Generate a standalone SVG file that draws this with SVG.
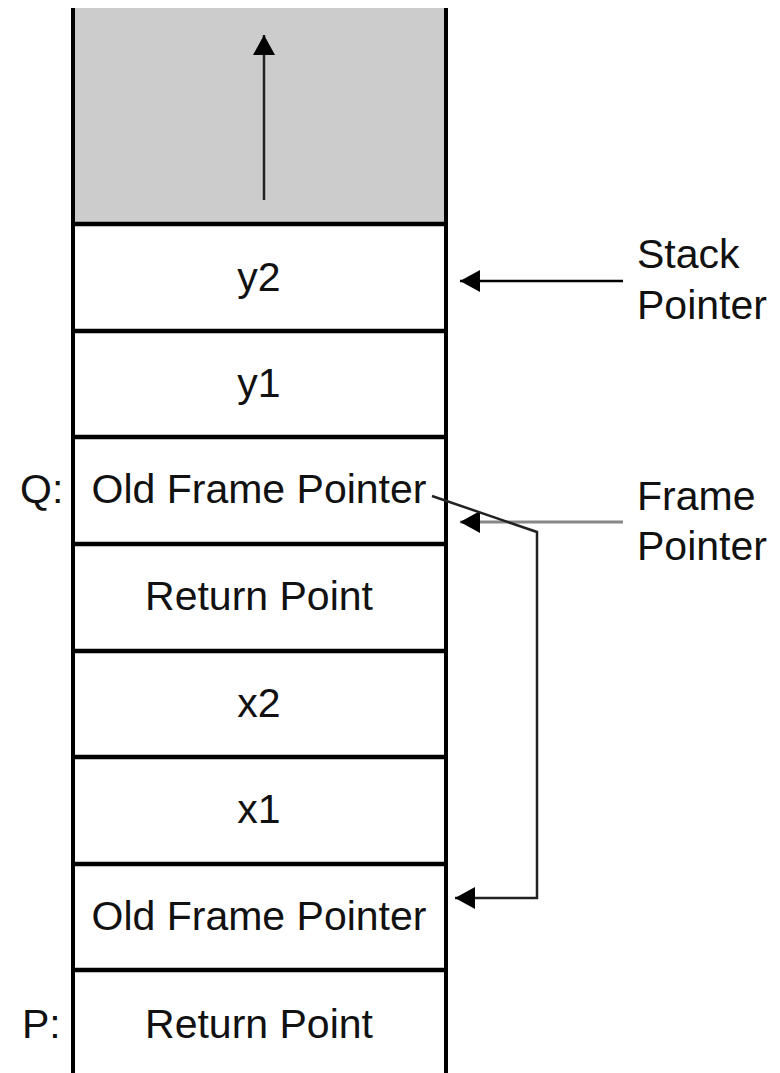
<svg xmlns="http://www.w3.org/2000/svg" width="780" height="1073" viewBox="0 0 780 1073">
<defs>
<style>
.t{font-family:"Liberation Sans",Arial,sans-serif;font-size:41px;fill:#111}
.c{text-anchor:middle}
.wall{stroke:#000;stroke-width:4;fill:none}
.sep{stroke:#000;stroke-width:4.5}
</style>
<marker id="ah" viewBox="0 0 20 22" refX="20" refY="11" markerWidth="20" markerHeight="22" markerUnits="userSpaceOnUse" orient="auto">
<path d="M0,0 L20,11 L0,22 Z" fill="#000"/>
</marker>
</defs>
<rect x="0" y="0" width="780" height="1073" fill="#fff"/>
<g id="stack">
<rect x="73" y="8" width="373" height="216" fill="#cccccc"/>
<line class="wall" x1="73" y1="8" x2="73" y2="1073"/>
<line class="wall" x1="446" y1="8" x2="446" y2="1073"/>
<line class="sep" x1="71" y1="224" x2="448" y2="224"/>
<line class="sep" x1="71" y1="331" x2="448" y2="331"/>
<line class="sep" x1="71" y1="437" x2="448" y2="437"/>
<line class="sep" x1="71" y1="544" x2="448" y2="544"/>
<line class="sep" x1="71" y1="651" x2="448" y2="651"/>
<line class="sep" x1="71" y1="757" x2="448" y2="757"/>
<line class="sep" x1="71" y1="864" x2="448" y2="864"/>
<line class="sep" x1="71" y1="970" x2="448" y2="970"/>
</g>
<g id="cell-y2"><text class="t c" x="259" y="291">y2</text></g>
<g id="cell-y1"><text class="t c" x="259" y="397">y1</text></g>
<g id="cell-ofp-q"><text class="t c" x="259" y="503">Old Frame Pointer</text></g>
<g id="cell-rp-1"><text class="t c" x="259" y="610">Return Point</text></g>
<g id="cell-x2"><text class="t c" x="259" y="717">x2</text></g>
<g id="cell-x1"><text class="t c" x="259" y="823">x1</text></g>
<g id="cell-ofp"><text class="t c" x="259" y="930">Old Frame Pointer</text></g>
<g id="cell-rp-p"><text class="t c" x="259" y="1038">Return Point</text></g>
<g id="label-q"><text class="t" x="20" y="503">Q:</text></g>
<g id="label-p"><text class="t" x="22" y="1038">P:</text></g>
<g id="label-sp"><text class="t" x="637" y="268">Stack</text><text class="t" x="637" y="319">Pointer</text></g>
<g id="label-fp"><text class="t" x="637" y="510">Frame</text><text class="t" x="637" y="560">Pointer</text></g>
<g id="connectors">
<line x1="264" y1="200" x2="264" y2="35" stroke="#222" stroke-width="2.5" marker-end="url(#ah)"/>
<line x1="623" y1="281" x2="460" y2="281" stroke="#000" stroke-width="2.5" marker-end="url(#ah)"/>
<line x1="623" y1="522" x2="460" y2="522" stroke="#888" stroke-width="3" marker-end="url(#ah)"/>
<polyline points="432,496 537,532 537,898 455,898" fill="none" stroke="#222" stroke-width="2.5" marker-end="url(#ah)"/>
</g>
</svg>
